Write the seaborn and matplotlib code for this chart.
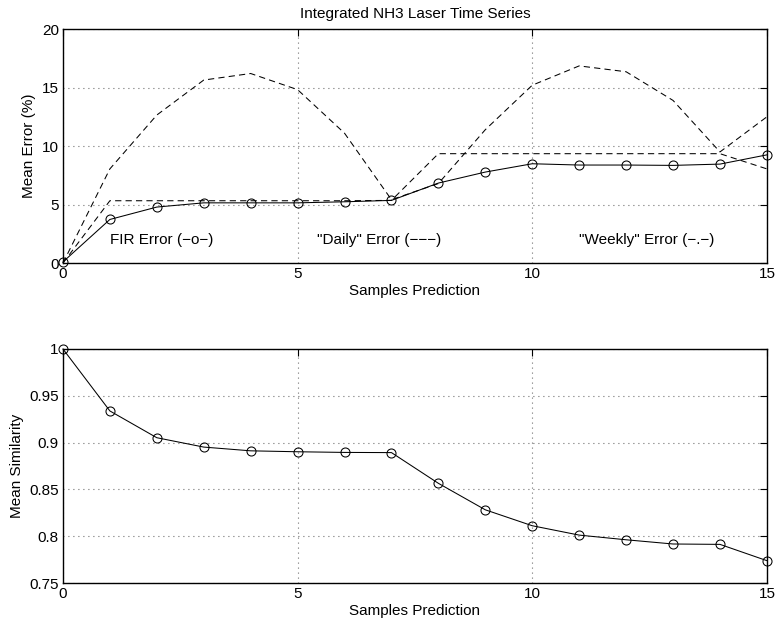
import numpy as np
import pandas as pd
import matplotlib
matplotlib.use("Agg")
import matplotlib.pyplot as plt
import seaborn as sns

# ---- data ----
samples = list(range(16))
fir_error = [0.1, 3.73, 4.79, 5.15, 5.15, 5.15, 5.24, 5.36, 6.84, 7.78, 8.49, 8.38, 8.38, 8.35, 8.46, 9.25]
daily_error = [0.0, 5.33, 5.33, 5.33, 5.33, 5.33, 5.33, 5.36, 9.35, 9.35, 9.35, 9.35, 9.35, 9.35, 9.35, 8.05]
weekly_error = [0.0, 8.05, 12.65, 15.64, 16.2, 14.82, 11.1, 5.42, 6.8, 11.4, 15.2, 16.85, 16.35, 13.9, 9.5, 12.5]
similarity = [1.0, 0.9338, 0.9052, 0.8952, 0.8912, 0.8902, 0.8895, 0.8893, 0.8565, 0.8282, 0.8112, 0.8012, 0.7962, 0.7917, 0.7913, 0.7739]

title = "Integrated NH3 Laser Time Series"
xlabel = "Samples Prediction"
ylabel_top = "Mean Error (%)"
ylabel_bottom = "Mean Similarity"
annot = [("FIR Error (\u2212o\u2212)", 1.0), ("\"Daily\" Error (\u2212\u2212\u2212)", 5.42), ("\"Weekly\" Error (\u2212.\u2212)", 11.0)]

sns.set_theme(style="white")
plt.rcParams['font.family'] = ['Liberation Sans', 'DejaVu Sans']
plt.rcParams['lines.scale_dashes'] = False
plt.rcParams['xtick.direction'] = 'in'
plt.rcParams['ytick.direction'] = 'in'
plt.rcParams['text.color'] = 'black'
plt.rcParams['axes.labelcolor'] = 'black'
plt.rcParams['xtick.color'] = 'black'
plt.rcParams['ytick.color'] = 'black'

fig = plt.figure(figsize=(7.77, 6.31), dpi=100)
ax1 = fig.add_axes([0.081, 0.583, 0.906, 0.371])
ax2 = fig.add_axes([0.081, 0.076, 0.906, 0.371])

df = pd.DataFrame({"x": samples, "fir": fir_error, "daily": daily_error, "weekly": weekly_error, "sim": similarity})

lw = 0.75
dash = (4.5, 3.0)
sns.lineplot(data=df, x="x", y="weekly", ax=ax1, color="black", linewidth=lw)
ax1.lines[-1].set_dashes(dash)
sns.lineplot(data=df, x="x", y="daily", ax=ax1, color="black", linewidth=lw)
ax1.lines[-1].set_dashes(dash)
sns.lineplot(data=df, x="x", y="fir", ax=ax1, color="black", linewidth=lw,
             marker="o", markersize=6.5, markerfacecolor="none", markeredgecolor="black", markeredgewidth=0.75)

sns.lineplot(data=df, x="x", y="sim", ax=ax2, color="black", linewidth=lw,
             marker="o", markersize=6.5, markerfacecolor="none", markeredgecolor="black", markeredgewidth=0.75)

fs = 11
for ax in (ax1, ax2):
    ax.set_xlim(0, 15)
    ax.set_xticks([0, 5, 10, 15])
    ax.set_xticklabels(["0", "5", "10", "15"])
    ax.grid(True, linestyle=(0, (0.6, 3.0)), color="#444444", linewidth=0.8)
    ax.tick_params(axis="both", which="both", direction="in", top=True, right=True,
                   length=5, width=0.8, color="black", labelcolor="black", labelsize=fs, pad=3)
    for s in ax.spines.values():
        s.set_color("black")
        s.set_linewidth(1.0)
    ax.set_xlabel(xlabel, fontsize=fs, labelpad=2, color="black")

ax1.set_ylim(0, 20)
ax1.set_yticks([0, 5, 10, 15, 20])
ax1.set_yticklabels(["0", "5", "10", "15", "20"])
ax1.set_ylabel(ylabel_top, fontsize=fs, labelpad=4, color="black")
ax1.set_title(title, fontsize=fs, pad=8, color="black")
for txt, xpos in annot:
    ax1.text(xpos, 1.95, txt, fontsize=fs, va="center", ha="left", color="black")

ax2.set_ylim(0.75, 1.0)
ax2.set_yticks([0.75, 0.8, 0.85, 0.9, 0.95, 1.0])
ax2.set_yticklabels(["0.75", "0.8", "0.85", "0.9", "0.95", "1"])
ax2.set_ylabel(ylabel_bottom, fontsize=fs, labelpad=4, color="black")

for ax in (ax1, ax2):
    for l in ax.lines:
        l.set_clip_on(False)

fig.savefig("out.png", dpi=100, facecolor="white")
